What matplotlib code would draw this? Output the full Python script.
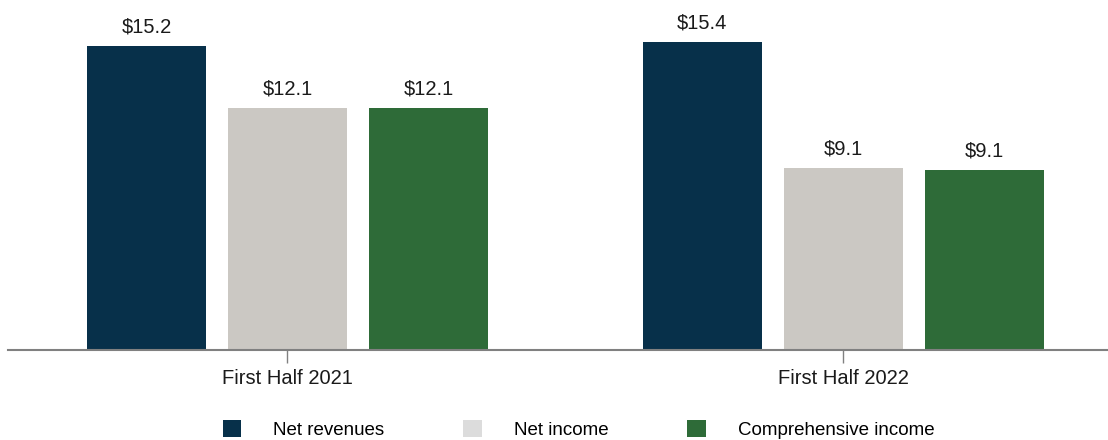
import matplotlib
matplotlib.use("Agg")
import matplotlib.pyplot as plt
from matplotlib.patches import Patch
import numpy as np

plt.rcParams['font.family'] = ['Liberation Sans', 'DejaVu Sans']

periods = ["First Half 2021", "First Half 2022"]
series = ["Net revenues", "Net income", "Comprehensive income"]
net_revenues = [15.2, 15.4]
net_income = [12.1, 9.1]
comprehensive_income = [12.1, 9.0]
label_net_revenues = ["$15.2", "$15.4"]
label_net_income = ["$12.1", "$9.1"]
label_comprehensive = ["$12.1", "$9.1"]

colors = ["#07304a", "#cbc8c3", "#2e6b38"]
legend_colors = ["#07304a", "#dcdcdc", "#2e6b38"]

fig = plt.figure(figsize=(11.08, 4.4), dpi=100)
ax = fig.add_axes([8/1108, 1 - 350/440, 1 - 8/1108, 350/440])

x = np.arange(len(periods))
step = 0.2538
width = 0.2142
data = [net_revenues, net_income, comprehensive_income]
labels = [label_net_revenues, label_net_income, label_comprehensive]
for i, (vals, labs, c) in enumerate(zip(data, labels, colors)):
    pos = x + (i - 1) * step
    ax.bar(pos, vals, width=width, color=c)
    for p, v, l in zip(pos, vals, labs):
        ax.text(p, v + 0.5, l, ha='center', va='bottom', fontsize=14.5, color='#1a1a1a')

ax.set_xlim(-0.503, 1.477)
ax.set_ylim(0, 17.5)
for s in ['top', 'right', 'left']:
    ax.spines[s].set_visible(False)
ax.spines['bottom'].set_color('#808080')
ax.spines['bottom'].set_linewidth(1.5)
ax.set_yticks([])
ax.set_xticks(x)
ax.set_xticklabels(periods, fontsize=14.5, color='#1a1a1a')
ax.tick_params(axis='x', length=9, width=1, color='#808080', pad=5)

handles = [Patch(facecolor=c, edgecolor='none') for c in legend_colors]
fig.legend(handles, series, loc='center', bbox_to_anchor=(0.522, 0.023), ncol=3,
           frameon=False, fontsize=13.5, handlelength=1.0, handleheight=1.0,
           handletextpad=1.7, columnspacing=4.2)

fig.savefig("out.png", dpi=100)
